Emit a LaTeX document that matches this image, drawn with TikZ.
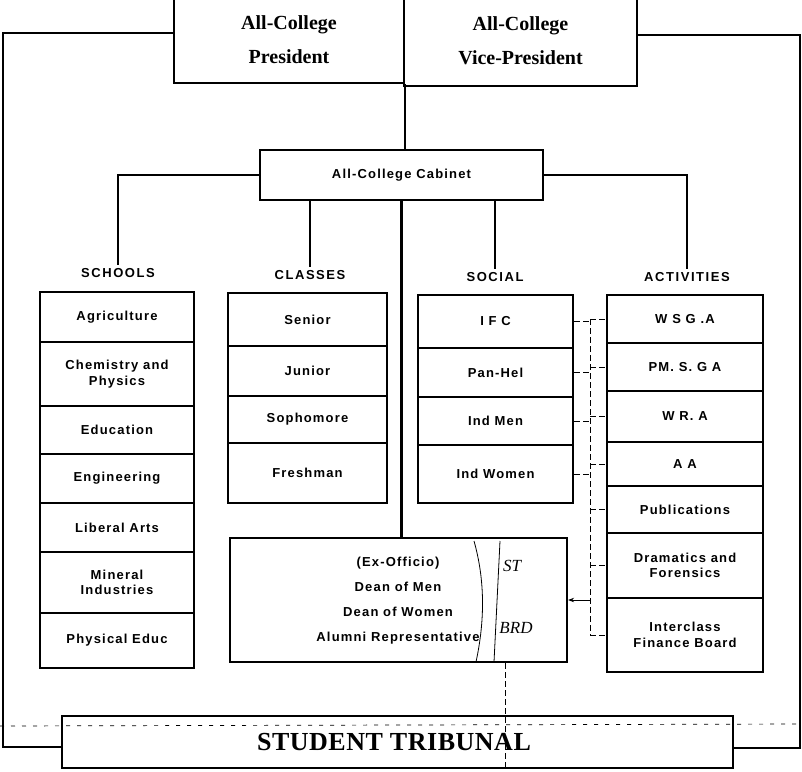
\documentclass[tikz,border=0pt]{standalone}
\usepackage{fontspec}
\setmainfont{Liberation Serif}
\newfontfamily\bx{Liberation Sans}[LetterSpace=9]
\newfontfamily\lbl{Liberation Sans}[LetterSpace=12]
\newfontfamily\trb{Liberation Serif}[LetterSpace=2]
\usetikzlibrary{arrows.meta}
\begin{document}
\begin{tikzpicture}[x=1pt,y=-1pt,
  frame/.style={draw, line width=2.2pt, inner sep=0pt},
  cell/.style={draw, line width=2.2pt, inner sep=0pt, align=center,
    font={\bx\bfseries\fontsize{13}{15.5}\selectfont}},
  txt/.style={inner sep=0pt, align=center, font={\bx\bfseries\fontsize{13}{25}\selectfont}},
  toptxt/.style={inner sep=0pt, align=center, font={\bfseries\fontsize{20}{34}\selectfont}},
  head/.style={inner sep=3pt, font={\lbl\bfseries\fontsize{13}{15}\selectfont}},
  conn/.style={draw, line width=2.2pt},
  hw/.style={draw, line width=0.8pt, dash pattern=on 6pt off 3pt},
  hwsolid/.style={draw, line width=0.8pt},
  hwtxt/.style={inner sep=0pt, font={\itshape\fontsize{17}{17}\selectfont}}]
\useasboundingbox (0,0) rectangle (802,771);
\clip (0,0) rectangle (802,771);

% top boxes
\node[frame, minimum width=230, minimum height=100] (pres) at (289,33) {};
\node[frame, minimum width=233, minimum height=102] (vp) at (520.5,35) {};
\node[toptxt] (presT) at (289,40) {All-College\\President};
\node[toptxt] (vpT) at (520.5,41) {All-College\\Vice-President};

% cabinet
\node[cell, minimum width=283, minimum height=50] (cab) at (401.5,175) {All-College Cabinet};

% headings
\node[head] (lsch) at (118,273) {SCHOOLS};
\node[head] (lcls) at (310,275) {CLASSES};
\node[head] (lsoc) at (495,277) {SOCIAL};
\node[head] (lact) at (687,277) {ACTIVITIES};

% schools
\node[cell, minimum width=154, minimum height=50] (agr) at (117,317) {Agriculture};
\node[cell, minimum width=154, minimum height=64] (chem) at (117,374) {Chemistry and\\Physics};
\node[cell, minimum width=154, minimum height=48] (edu) at (117,430) {Education};
\node[cell, minimum width=154, minimum height=49] (eng) at (117,478.5) {Engineering};
\node[cell, minimum width=154, minimum height=49] (lib) at (117,527.5) {Liberal Arts};
\node[cell, minimum width=154, minimum height=61] (mine) at (117,582.5) {Mineral\\Industries};
\node[cell, minimum width=154, minimum height=55] (phys) at (117,640.5) {Physical Educ};

% classes
\node[cell, minimum width=159, minimum height=53] (sen) at (307.5,319.5) {Senior};
\node[cell, minimum width=159, minimum height=50] (jun) at (307.5,371) {Junior};
\node[cell, minimum width=159, minimum height=47] (soph) at (307.5,419.5) {Sophomore};
\node[cell, minimum width=159, minimum height=60] (fresh) at (307.5,473) {Freshman};

% social
\node[cell, minimum width=155, minimum height=53] (ifc) at (495.5,321.5) {I F C};
\node[cell, minimum width=155, minimum height=49] (pan) at (495.5,372.5) {Pan-Hel};
\node[cell, minimum width=155, minimum height=48] (indm) at (495.5,421) {Ind Men};
\node[cell, minimum width=155, minimum height=58] (indw) at (495.5,474) {Ind Women};

% activities
\node[cell, minimum width=156, minimum height=48] (wsga) at (685,319) {W S G .A};
\node[cell, minimum width=156, minimum height=48] (pmsga) at (685,367) {PM. S. G A};
\node[cell, minimum width=156, minimum height=51] (wra) at (685,416.5) {W R. A};
\node[cell, minimum width=156, minimum height=44] (aa) at (685,464) {A A};
\node[cell, minimum width=156, minimum height=47] (pub) at (685,509.5) {Publications};
\node[cell, minimum width=156, minimum height=65] (dram) at (685,565.5) {Dramatics and\\Forensics};
\node[cell, minimum width=156, minimum height=74] (ifb) at (685,635) {Interclass\\Finance Board};

% ex-officio
\node[frame, minimum width=337, minimum height=124] (exo) at (398.5,600) {};
\node[txt] (exoT) at (398,600.5) {(Ex-Officio)\\Dean of Men\\Dean of Women\\Alumni Representative};

% tribunal
\node[frame, minimum width=671, minimum height=52] (trib) at (397.5,742) {};
\node[inner sep=0pt, font={\trb\bfseries\fontsize{26}{26}\selectfont}] (tribT) at (394,742) {STUDENT TRIBUNAL};

% connectors
\coordinate (lc) at (3,747);
\coordinate (rc) at (800,748);
\draw[conn] (pres.south east) -- (cab.north -| pres.south east);
\draw[conn] (pres.west) -| (lc) -- (lc -| trib.west);
\draw[conn] (vp.east) -| (rc) -- (rc -| trib.east);
\draw[conn] (cab.west) -| (lsch.north);
\draw[conn] (cab.south -| lcls.north) -- (lcls.north);
\draw[conn] (cab.south -| lsoc.north) -- (lsoc.north);
\draw[conn] (cab.east) -| (lact.north);
\draw[conn] (cab.south) -- (cab.south |- exo.north);

% handwritten marks
\coordinate (br) at (590,0);
\coordinate (dl) at (505,0);
\draw[hw] (br |- wsga.west) -- (br |- ifb.west);
\foreach \n in {ifc,pan,indm,indw} \draw[hw] (\n.east) -- (\n.east -| br);
\foreach \n in {wsga,pmsga,wra,aa,pub,dram,ifb} \draw[hw] (br |- \n.west) -- (\n.west);
\draw[hwsolid, -{Stealth[length=6pt]}] (br |- exo.east) -- (exo.east);
\draw[hw] (exo.south -| dl) -- (trib.south -| dl);
\draw[line width=0.7pt, dash pattern=on 4pt off 7pt] (0,726) -- (802,724);
\draw[hwsolid] (474,541) .. controls (485,580) and (485,620) .. (476,662);
\draw[hwsolid] (500,541) -- (494,662);
\node[hwtxt] (hw1) at (512,566) {ST};
\node[hwtxt] (hw2) at (516,628) {BRD};
\end{tikzpicture}
\end{document}
